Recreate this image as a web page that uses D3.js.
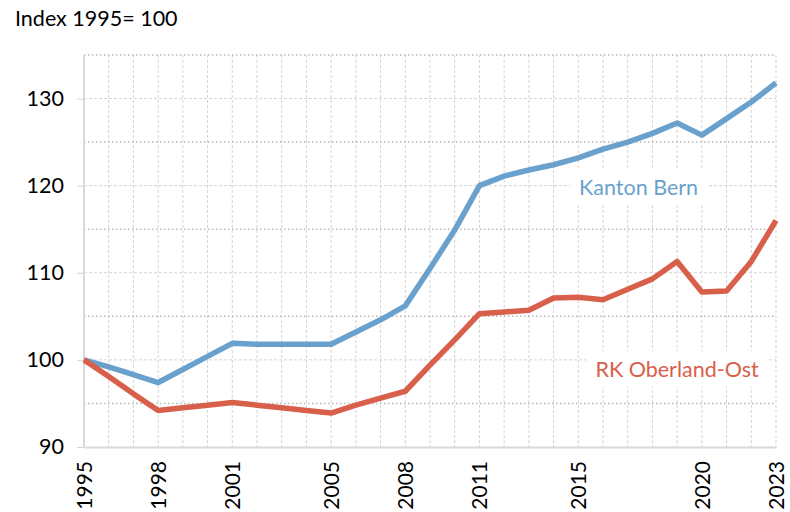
<!DOCTYPE html>
<html>
<head>
<meta charset="utf-8">
<script src="https://cdn.jsdelivr.net/npm/d3@7"></script>
<style>
  body { margin: 0; background: #fff; }
  text { font-family: Lato, "Open Sans", sans-serif; }
</style>
</head>
<body>
<div id="chart"></div>
<script>
const years = d3.range(1995, 2024);
const labelYears = [1995, 1998, 2001, 2005, 2008, 2011, 2015, 2020, 2023];
const kantonBern = [100, 99.2, 98.3, 97.4, 98.9, 100.4, 101.9, 101.8, 101.8, 101.8, 101.8, 103.2, 104.6,
  106.2, 110.5, 114.9, 120.0, 121.1, 121.8, 122.4, 123.2, 124.2, 125.0, 126.0, 127.2, 125.8, 127.7, 129.6, 131.8];
const oberlandOst = [100, 98.1, 96.1, 94.2, 94.5, 94.8, 95.1, 94.8, 94.5, 94.2, 93.9, 94.8, 95.6,
  96.4, 99.4, 102.3, 105.3, 105.5, 105.7, 107.1, 107.2, 106.9, 108.1, 109.3, 111.3, 107.8, 107.9, 111.3, 116.0];
const yTicks = [90, 100, 110, 120, 130];
const yMinor = [95, 105, 115, 125, 135];

var margin = { top: 55, right: 14, bottom: 65, left: 84 };
var width = 790 - margin.left - margin.right;
var height = 512 - margin.top - margin.bottom;

var xScale = d3.scaleLinear().domain([1995, 2023]).range([0, width]);
var yScale = d3.scaleLinear().domain([90, 135]).range([height, 0]);

var svg = d3.select("#chart").append("svg")
    .attr("width", 790)
    .attr("height", 512);

svg.append("text")
    .attr("x", 15)
    .attr("y", 26)
    .attr("font-size", 21.5)
    .attr("fill", "#000")
    .text("Index 1995= 100");

var g = svg.append("g")
    .attr("transform", `translate(${margin.left}, ${margin.top})`);

// vertical grid, one per year
g.append("g").selectAll("line")
    .data(years.slice(1))
    .join("line")
    .attr("x1", d => xScale(d)).attr("x2", d => xScale(d))
    .attr("y1", 0).attr("y2", height)
    .attr("stroke", "#d4d4d4")
    .attr("stroke-dasharray", "3,2");

// major horizontal grid
g.append("g").selectAll("line")
    .data(yTicks.slice(1))
    .join("line")
    .attr("x1", 0).attr("x2", width)
    .attr("y1", d => yScale(d)).attr("y2", d => yScale(d))
    .attr("stroke", "#d4d4d4")
    .attr("stroke-dasharray", "3,2");

// minor horizontal grid (dotted)
g.append("g").selectAll("line")
    .data(yMinor)
    .join("line")
    .attr("x1", 0).attr("x2", width)
    .attr("y1", d => yScale(d)).attr("y2", d => yScale(d))
    .attr("stroke", "#b8b8b8")
    .attr("stroke-width", 1.5)
    .attr("stroke-dasharray", "1.5,2.5");

// y axis
var yAxis = d3.axisLeft(yScale).tickValues(yTicks).tickSize(7).tickPadding(13);
var yAxisG = g.append("g").call(yAxis);
yAxisG.select(".domain").remove();
yAxisG.selectAll(".tick line").attr("stroke", "#d4d4d4");
yAxisG.selectAll(".tick text")
    .attr("font-size", 21.5)
    .attr("fill", "#000")
    .style("font-family", "Lato, sans-serif");

g.append("line")
    .attr("x1", 0).attr("x2", 0)
    .attr("y1", 0).attr("y2", height)
    .attr("stroke", "#d9d9d9")
    .attr("stroke-width", 2);

// x axis
var xAxis = d3.axisBottom(xScale).tickValues(labelYears).tickSize(0).tickFormat(d3.format("d"));
var xAxisG = g.append("g").attr("transform", `translate(0, ${height})`).call(xAxis);
xAxisG.select(".domain").attr("stroke", "#d9d9d9").attr("stroke-width", 2);
xAxisG.selectAll(".tick text")
    .attr("font-size", 21)
    .attr("fill", "#000")
    .style("font-family", "Lato, sans-serif")
    .attr("transform", "rotate(-90)")
    .attr("text-anchor", "end")
    .attr("dy", "0.35em")
    .attr("x", -14)
    .attr("y", 0);

// lines
var line = d3.line()
    .x((d, i) => xScale(years[i]))
    .y(d => yScale(d));

var series = [
  { name: "Kanton Bern", values: kantonBern, color: "#6aa1cc" },
  { name: "RK Oberland-Ost", values: oberlandOst, color: "#d8604a" }
];

g.append("g").selectAll("path")
    .data(series)
    .join("path")
    .attr("d", d => line(d.values))
    .style("fill", "none")
    .style("stroke", d => d.color)
    .style("stroke-width", 5.5)
    .style("stroke-linejoin", "round");

// labels with white boxes
var labels = [
  { text: "Kanton Bern", color: "#6aa1cc", x: 2017.44, y: 119.8 },
  { text: "RK Oberland-Ost", color: "#d8604a", x: 2019.0, y: 98.9 }
];

var lab = g.append("g").selectAll("g")
    .data(labels)
    .join("g")
    .attr("transform", d => `translate(${xScale(d.x)}, ${yScale(d.y)})`);

lab.append("text")
    .attr("text-anchor", "middle")
    .attr("dy", "0.35em")
    .attr("font-size", 21.5)
    .attr("fill", d => d.color)
    .text(d => d.text)
    .each(function (d) {
        var b = this.getBBox();
        d3.select(this.parentNode).insert("rect", "text")
            .attr("x", b.x - 9).attr("y", b.y - 5)
            .attr("width", b.width + 18).attr("height", b.height + 10)
            .attr("fill", "#fff");
    });
</script>
</body>
</html>
